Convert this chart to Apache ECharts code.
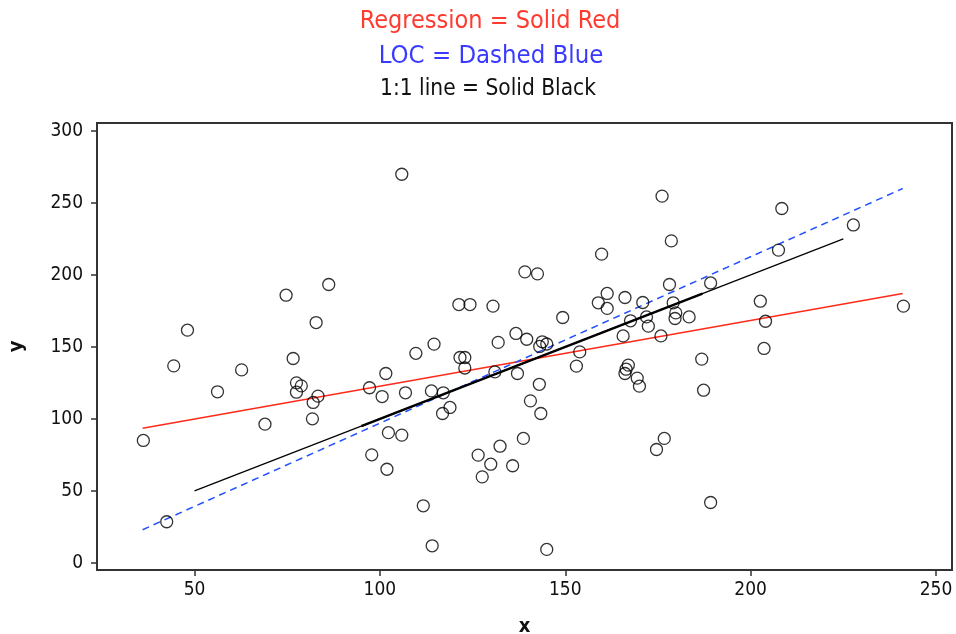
<!DOCTYPE html>
<html>
<head>
<meta charset="utf-8">
<script src="https://cdn.jsdelivr.net/npm/echarts@6/dist/echarts.min.js"></script>
<style>
  html, body { margin: 0; padding: 0; background: #fff; }
  #chart { width: 956px; height: 634px; }
</style>
</head>
<body>
<div id="chart"></div>
<script>
// observed points
const xs = [48.1, 74.7, 86.2, 82.8, 105.9, 176.1, 178.6, 159.8, 139.1, 142.5,
  121.3, 124.3, 130.5, 149.3, 178.1, 161.3, 166.1, 158.9, 161.3, 170.9,
  179.1, 171.9, 179.6, 179.8, 167.6, 172.4, 165.6, 175.8, 136.7, 139.6,
  131.9, 114.6, 143.8, 143.1, 145.0, 208.4, 227.7, 207.5, 189.2, 202.6,
  183.4, 204.0, 241.2, 203.6, 44.4, 62.7, 76.6, 56.2, 77.5, 78.8,
  77.5, 82.0, 83.3, 81.8, 69.0, 36.2, 42.5, 97.2, 100.6, 101.6,
  102.3, 97.8, 101.9, 109.7, 121.6, 122.9, 122.9, 153.9, 153.0, 131.0,
  137.1, 143.0, 167.0, 166.1, 169.4, 170.0, 106.9, 113.9, 117.1, 118.9,
  116.9, 140.6, 143.4, 105.9, 138.7, 132.4, 126.5, 129.9, 135.8, 127.6,
  111.7, 114.1, 145.0, 176.7, 174.6, 186.8, 187.3, 189.2, 166.4]
const ys = [161.6, 185.9, 193.3, 166.9, 269.9, 254.7, 223.6, 214.4, 202.1, 200.7,
  179.4, 179.4, 178.3, 170.4, 193.3, 187.1, 184.3, 180.6, 176.7, 180.8,
  180.6, 170.8, 169.7, 173.6, 168.1, 164.4, 157.6, 157.6, 159.3, 155.3,
  153.1, 151.9, 153.5, 150.3, 152.0, 246.1, 234.7, 217.2, 194.4, 181.7,
  170.8, 167.8, 178.3, 148.9, 136.8, 134.0, 141.9, 118.8, 125.0, 122.9,
  118.5, 111.4, 115.8, 100.0, 96.3, 85.0, 28.5, 121.6, 115.5, 131.5,
  90.4, 75.0, 65.0, 145.5, 142.6, 142.6, 135.3, 146.5, 136.6, 132.6,
  131.5, 124.0, 137.3, 131.5, 128.3, 122.7, 118.1, 119.4, 118.1, 107.9,
  103.7, 112.5, 103.7, 88.7, 86.4, 81.0, 74.8, 68.5, 67.4, 59.7,
  39.6, 11.8, 9.3, 86.4, 78.7, 141.5, 119.9, 41.9, 134.5]

// fitted lines (end points)
const regX = [36, 241]
const regY = [93.5, 187]
const locX = [36, 241]
const locY = [23, 260]
const oneX = [50, 225]
const boldX = [95, 187]

const xTicks = [50, 100, 150, 200, 250]
const yTicks = [0, 50, 100, 150, 200, 250, 300]

const font = 'Tahoma, "DejaVu Sans Condensed", "DejaVu Sans", sans-serif'
const pairs = (a, b) => a.map((v, i) => [v, b[i]])

const chart = echarts.init(document.getElementById('chart'))
const option = {
  animation: false,
  backgroundColor: '#fff',
  title: [
    { text: 'Regression = Solid Red', left: 485, top: 4, textAlign: 'center',
      textStyle: { color: '#ff3b30', fontSize: 25, fontWeight: 'normal', fontFamily: font } },
    { text: 'LOC = Dashed Blue', left: 486, top: 38, textAlign: 'center',
      textStyle: { color: '#3a3aff', fontSize: 25.5, fontWeight: 'normal', fontFamily: font } },
    { text: '1:1 line = Solid Black', left: 483, top: 73, textAlign: 'center',
      textStyle: { color: '#111', fontSize: 22.5, fontWeight: 'normal', fontFamily: font } }
  ],
  grid: {
    left: 97, right: 4, top: 123, bottom: 64, outerBoundsMode: 'none',
    show: true, borderColor: '#333', borderWidth: 2
  },
  xAxis: {
    type: 'value', min: 23.7, max: 254.3, splitNumber: 5,
    name: 'x', nameLocation: 'middle', nameGap: 47,
    nameTextStyle: { fontSize: 20, fontWeight: 'bold', color: '#111', fontFamily: font },
    splitLine: { show: false },
    axisLine: { onZero: false, lineStyle: { color: '#333', width: 2 } },
    axisTick: { length: 6, lineStyle: { color: '#333', width: 1.5 } },
    axisLabel: {
      color: '#111', fontSize: 19, fontFamily: font, margin: 11,
      showMinLabel: false, showMaxLabel: false,
      formatter: v => xTicks.includes(Math.round(v * 10) / 10) ? String(v) : ''
    }
  },
  yAxis: {
    type: 'value', min: -5, max: 305.5, splitNumber: 6,
    name: 'y', nameLocation: 'middle', nameGap: 70, nameRotate: 90,
    nameTextStyle: { fontSize: 20, fontWeight: 'bold', color: '#111', fontFamily: font },
    splitLine: { show: false },
    axisLine: { onZero: false, lineStyle: { color: '#333', width: 2 } },
    axisTick: { length: 6, lineStyle: { color: '#333', width: 1.5 } },
    axisLabel: {
      color: '#111', fontSize: 19, fontFamily: font, margin: 14,
      showMinLabel: false, showMaxLabel: false,
      formatter: v => yTicks.includes(Math.round(v * 10) / 10) ? String(v) : ''
    }
  },
  series: [
    {
      type: 'scatter', data: pairs(xs, ys), symbol: 'circle', symbolSize: 12,
      itemStyle: { color: 'rgba(0,0,0,0)', borderColor: '#000', borderWidth: 1.3 },
      z: 5
    },
    {
      type: 'line', data: pairs(regX, regY), showSymbol: false,
      lineStyle: { color: '#ff2a1a', width: 1.5 }
    },
    {
      type: 'line', data: pairs(locX, locY), showSymbol: false,
      lineStyle: { color: '#2050ff', width: 1.5, type: [7, 5] }
    },
    {
      type: 'line', data: pairs(oneX, oneX), showSymbol: false,
      lineStyle: { color: '#000', width: 1.2 }
    },
    {
      type: 'line', data: pairs(boldX, boldX), showSymbol: false,
      lineStyle: { color: '#000', width: 2.4 }
    }
  ]
}
chart.setOption(option)
</script>
</body>
</html>
